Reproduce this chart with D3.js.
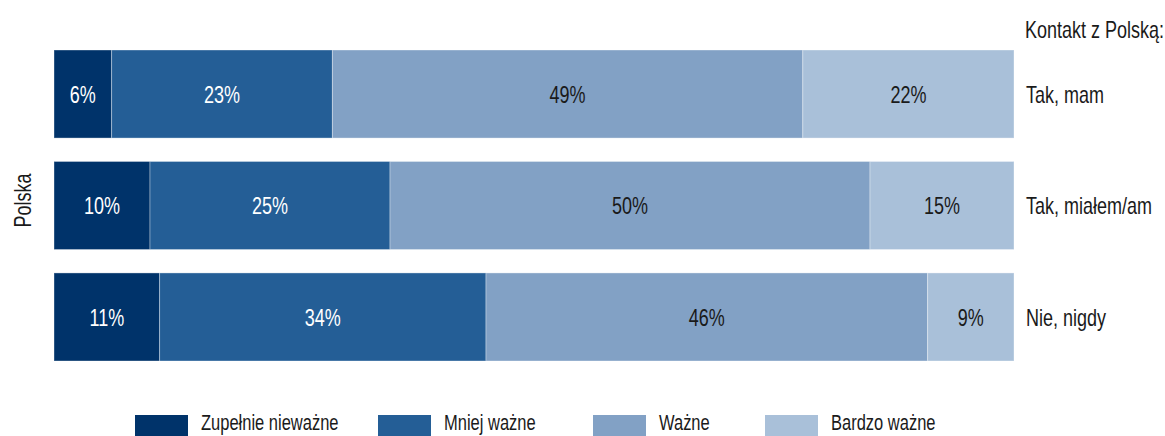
<!DOCTYPE html>
<html><head><meta charset="utf-8">
<script src="https://cdn.jsdelivr.net/npm/d3@7"></script>
<style>
html,body{margin:0;padding:0;background:#fff;}
svg{display:block;font-family:"Liberation Sans",Arial,sans-serif;}
</style></head>
<body>
<svg id="chart" width="1165" height="436"></svg>
<script>
const categories = ["Tak, mam", "Tak, miałem/am", "Nie, nigdy"];
const seriesNames = ["Zupełnie nieważne", "Mniej ważne", "Ważne", "Bardzo ważne"];
const zupelnie = [6, 10, 11];
const mniej = [23, 25, 34];
const wazne = [49, 50, 46];
const bardzo = [22, 15, 9];
const colors = ["#00336a", "#245e96", "#82a1c5", "#a9c0d9"];
const textColors = ["#ffffff", "#ffffff", "#1a1a1a", "#1a1a1a"];
const groupLabel = "Polska";
const legendTitle = "Kontakt z Polską:";

const SX = 0.75; // horizontal condensing to mimic a condensed typeface

const seriesValues = [zupelnie, mniej, wazne, bardzo];
const rows = categories.map((c, i) => {
  const o = {cat: c};
  seriesNames.forEach((s, j) => o[s] = seriesValues[j][i]);
  return o;
});
const stack = d3.stack().keys(seriesNames)(rows);

const svg = d3.select("#chart");
const x = d3.scaleLinear().domain([0, 100]).range([54, 1014]);
const y = d3.scaleBand().domain(categories).range([50, 361]).paddingInner(0.21).paddingOuter(0);

const layers = svg.selectAll("g.layer").data(stack).join("g").attr("class", "layer");
layers.each(function(layer, li) {
  const g = d3.select(this);
  g.selectAll("rect").data(layer).join("rect")
    .attr("x", d => x(d[0]))
    .attr("y", d => y(d.data.cat))
    .attr("width", d => x(d[1]) - x(d[0]))
    .attr("height", y.bandwidth())
    .attr("fill", colors[li])
    .attr("stroke", "rgba(255,255,255,0.35)")
    .attr("stroke-width", 1);
  g.selectAll("text").data(layer).join("text")
    .attr("transform", d => `translate(${(x(d[0]) + x(d[1])) / 2},${y(d.data.cat) + y.bandwidth() / 2}) scale(${SX},1)`)
    .attr("dy", "0.36em")
    .attr("text-anchor", "middle")
    .attr("font-size", 24)
    .attr("fill", textColors[li])
    .text(d => (d[1] - d[0]) + "%");
});

// category labels on right
svg.append("g").selectAll("text").data(categories).join("text")
  .attr("transform", d => `translate(1026,${y(d) + y.bandwidth() / 2}) scale(${SX},1)`)
  .attr("dy", "0.36em")
  .attr("font-size", 24)
  .attr("fill", "#1a1a1a")
  .text(d => d);

svg.append("text")
  .attr("transform", `translate(1025,38) scale(${SX},1)`)
  .attr("font-size", 24).attr("fill", "#1a1a1a")
  .text(legendTitle);

svg.append("text")
  .attr("transform", `translate(31,${(y.range()[0] + y.range()[1]) / 2 - 5}) rotate(-90) scale(${SX},1)`)
  .attr("text-anchor", "middle")
  .attr("font-size", 24).attr("fill", "#1a1a1a")
  .text(groupLabel);

// legend
const legendX = [135, 378, 593, 765];
const lg = svg.append("g").selectAll("g").data(seriesNames).join("g")
  .attr("transform", (d, i) => `translate(${legendX[i]},415)`);
lg.append("rect").attr("width", 53).attr("height", 21).attr("fill", (d, i) => colors[i]);
lg.append("text").attr("transform", `translate(66,15) scale(${SX},1)`)
  .attr("font-size", 22).attr("fill", "#1a1a1a").text(d => d);
</script>
</body></html>
